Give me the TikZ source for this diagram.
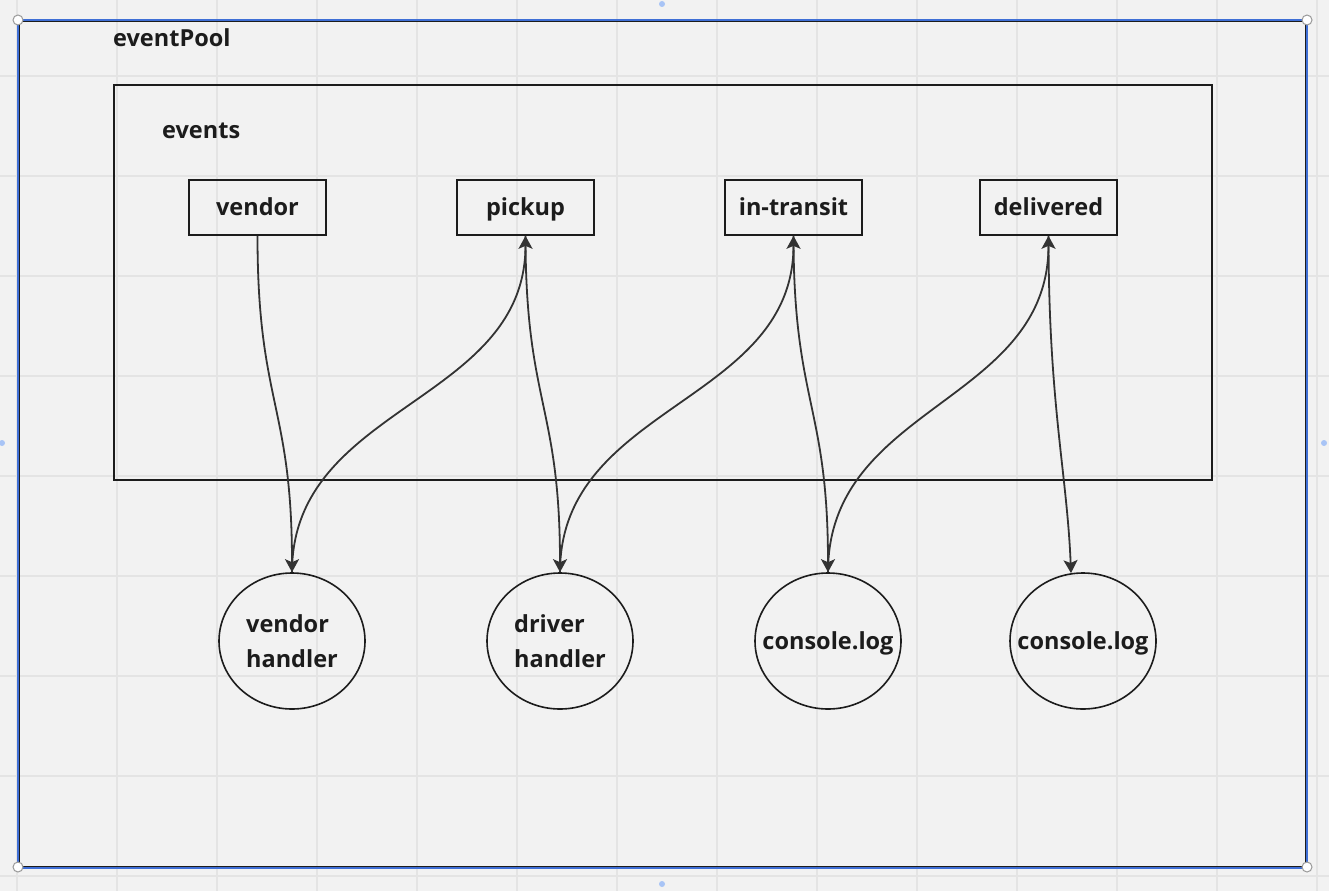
\documentclass[tikz,border=0pt]{standalone}
\usepackage{fontspec}
\setmainfont{Open Sans}
\usepackage{tikz}
\usetikzlibrary{arrows.meta,shapes.geometric}
\definecolor{canvas}{HTML}{F2F2F2}
\definecolor{gridgray}{HTML}{E4E4E4}
\definecolor{inkline}{HTML}{1C1C1C}
\definecolor{wiregray}{HTML}{333333}
\definecolor{selblue}{HTML}{3F6FD6}
\definecolor{dotblue}{HTML}{A8C4F6}
\tikzstyle{eventbox}=[draw=inkline,line width=1.6pt,minimum width=137pt,minimum height=55pt,text height=21pt,text depth=4.5pt,inner sep=0pt]
\tikzstyle{handler}=[draw=inkline,ellipse,line width=1.6pt,minimum width=146pt,minimum height=136pt,align=left,inner sep=0pt]
\tikzstyle{logger}=[handler,text height=21pt,text depth=4.5pt,inner xsep=-18pt]
\tikzstyle{flow}=[draw=wiregray,line width=1.8pt,-{Stealth[length=13pt,width=14pt,inset=3pt]}]

\begin{document}
\begin{tikzpicture}[x=1pt,y=-1pt,font=\fontsize{23.5pt}{35pt}\selectfont\bfseries,text=inkline]
\useasboundingbox[fill=canvas] (0,0) rectangle (1329,891);
\foreach \gx in {17,117,...,1317} \draw[gridgray,line width=1.2pt] (\gx,0) -- (\gx,891);
\foreach \gy in {76,176,...,876} \draw[gridgray,line width=1.2pt] (0,\gy) -- (1329,\gy);
\draw[inkline,line width=1.4pt] (19.3,21.3) rectangle (1305.4,866.3);
\draw[selblue,line width=1.7pt] (18,19.8) rectangle (1306.9,868);
\draw[inkline,line width=1.6pt] (114,85) rectangle (1212,480);
\node[anchor=west,inner sep=0pt] (pool) at (113,38) {eventPool};
\node[anchor=west,inner sep=0pt] (events) at (162,131) {events};
\node[eventbox] (vendor) at (257.5,207.5) {vendor};
\node[eventbox] (pickup) at (525.5,207.5) {pickup};
\node[eventbox] (transit) at (793.5,207.5) {in-transit};
\node[eventbox] (delivered) at (1048.5,207.5) {delivered};
\node[handler] (vhandler) at (292,641) {vendor\\handler};
\node[handler] (dhandler) at (560,641) {driver\\handler};
\node[logger] (log1) at (828,641) {console.log};
\node[logger] (log2) at (1083,641) {console.log};
\draw[flow] (vendor.south) .. controls +(0,168) and +(0,-168) .. (vhandler.north);
\draw[flow] (vhandler.north) .. controls +(0,-168) and +(0,168) .. (pickup.south);
\draw[flow] (pickup.south) .. controls +(0,168) and +(0,-168) .. (dhandler.north);
\draw[flow] (dhandler.north) .. controls +(0,-168) and +(0,168) .. (transit.south);
\draw[flow] (transit.south) .. controls +(0,168) and +(0,-168) .. (log1.north);
\draw[flow] (log1.north) .. controls +(0,-168) and +(0,168) .. (delivered.south);
\draw[flow] (delivered.south) .. controls +(0,168) and +(-4,-100) .. (log2.100);
\foreach \hx/\hy in {18/20,1307/20,18/867,1307/867} \draw[gray!80,fill=white,line width=1pt] (\hx,\hy) circle (5pt);
\foreach \dx/\dy in {662/4,2/443,1324/443,662/884} \fill[dotblue] (\dx,\dy) circle (3pt);
\end{tikzpicture}
\end{document}
